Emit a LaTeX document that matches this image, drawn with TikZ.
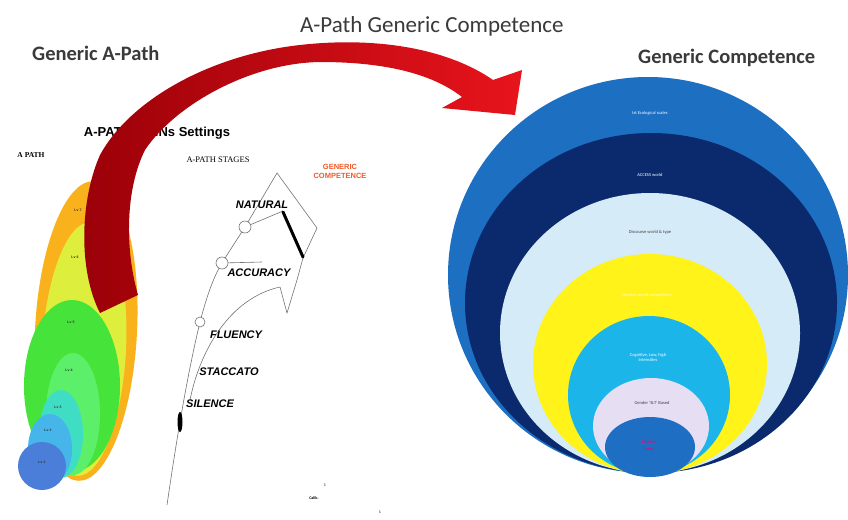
\documentclass[tikz,border=0pt]{standalone}
\usepackage{fontspec}
\setmainfont{Carlito}
\newfontfamily\lsans{Liberation Sans}
\newfontfamily\lserif{Liberation Serif}
\definecolor{titlegray}{HTML}{3A3A3A}
\definecolor{aorange}{HTML}{F9B21C}
\definecolor{ayellow}{HTML}{DDEF3C}
\definecolor{agreen}{HTML}{46E43A}
\definecolor{alime}{HTML}{5CF06A}
\definecolor{aturq}{HTML}{3EDDC4}
\definecolor{alblue}{HTML}{46B6EA}
\definecolor{ablue}{HTML}{4A7ED8}
\definecolor{gcblue}{HTML}{1C6FC1}
\definecolor{gcnavy}{HTML}{0B2A6E}
\definecolor{gcpale}{HTML}{D5EBF7}
\definecolor{gcyellow}{HTML}{FFF31A}
\definecolor{gccyan}{HTML}{1BB5EA}
\definecolor{gclav}{HTML}{E6DEF2}
\definecolor{gccore}{HTML}{1E6FC4}
\definecolor{gcred}{HTML}{F05A28}
\definecolor{darrow}{HTML}{9A0008}
\definecolor{barrow}{HTML}{E8141C}
\begin{document}
\begin{tikzpicture}[x=1pt,y=-1pt,
  title/.style={font=\fontsize{20.5}{20.5}\selectfont\bfseries, text=titlegray, inner sep=0pt},
  stagelabel/.style={font=\lsans\fontsize{11}{11}\selectfont\bfseries\itshape, inner sep=0pt},
  tinylabel/.style={font=\lsans\fontsize{3.5}{3.5}\selectfont\bfseries, text=black!80, inner sep=0pt},
  gclabel/.style={font=\fontsize{4.5}{5}\selectfont, inner sep=0pt, align=center},
  stageline/.style={draw=black!55, line width=0.6pt}]
\useasboundingbox (0,0) rectangle (848,519);
\fill[white] (0,0) rectangle (848,519);

% ---------- titles ----------
\node[title, anchor=west] (tgap) at (32,53) {Generic A-Path};
\node[font=\fontsize{23}{23}\selectfont, text=titlegray, inner sep=0pt, anchor=west] (tapgc) at (300,26) {A-Path Generic Competence};
\node[title, anchor=west] (tgc) at (638,58) {Generic Competence};

% ---------- left nested ellipses ----------
\fill[aorange] (86,331) ellipse [x radius=51, y radius=150, rotate=-3];
\fill[ayellow] (84,349) ellipse [x radius=42, y radius=127, rotate=-3];
\fill[agreen] (72,386) ellipse [x radius=48, y radius=86];
\fill[alime] (73,414) ellipse [x radius=27, y radius=61];
\fill[aturq] (61,434) ellipse [x radius=22, y radius=44];
\fill[alblue] (50,449) ellipse [x radius=22, y radius=35];
\fill[ablue] (42,466) ellipse [x radius=24, y radius=24];
\node[tinylabel] (l7) at (78,210) {Lv 7};
\node[tinylabel] (l6) at (75,257) {Lv 6};
\node[tinylabel] (l5) at (71,322) {Lv 5};
\node[tinylabel] (l4) at (69,370) {Lv 4};
\node[tinylabel] (l3) at (58,407) {Lv 3};
\node[tinylabel] (l2) at (48,430) {Lv 2};
\node[tinylabel] (l1) at (42,462) {Lv 1};

% ---------- middle texts ----------
\node[font=\lserif\fontsize{7.5}{7.5}\selectfont\bfseries, inner sep=0pt] (apath) at (31,155) {A PATH};
\node[font=\lsans\fontsize{13}{13}\selectfont\bfseries, inner sep=0pt] (settings) at (157,133) {A-PATH MAINs Settings};
\node[font=\lserif\fontsize{8.5}{8.5}\selectfont, inner sep=0pt] (stages) at (218,160) {A-PATH STAGES};
\node[font=\lsans\fontsize{7.5}{9}\selectfont\bfseries, text=gcred, align=center, inner sep=0pt] (gcomp) at (340,171) {GENERIC\\COMPETENCE};

% ---------- stages drawing ----------
\coordinate (top) at (277,173);
\coordinate (rc) at (317,228);
\coordinate (nb) at (303,258);
\draw[stageline] (167,505) .. controls (175,450) and (186,380) .. (200,322)
   .. controls (207,295) and (214,276) .. (222,263)
   .. controls (230,250) and (238,238) .. (245,227) -- (top) -- (rc) -- (nb);
\draw[stageline] (190,400) .. controls (200,350) and (230,298) .. (280,287) -- (287,313) -- (297,280) -- (nb);
\draw[stageline] (245,227) -- (283,211);
\draw[stageline] (222,263) -- (262,262);
\draw[stageline, fill=white] (245,227) circle (6);
\draw[stageline, fill=white] (222,263) circle (6);
\draw[stageline, fill=white] (200,322) circle (5);
\draw[line width=3pt, line cap=round] (283,212) -- (303,257);
\fill (180,422) ellipse [x radius=2.5, y radius=10];
\node[stagelabel] (natural) at (262,205) {NATURAL};
\node[stagelabel] (accuracy) at (259,273) {ACCURACY};
\node[stagelabel] (fluency) at (236,335) {FLUENCY};
\node[stagelabel] (staccato) at (229,372) {STACCATO};
\node[stagelabel] (silence) at (210,404) {SILENCE};
\node[font=\fontsize{4}{4}\selectfont, inner sep=0pt] (m1) at (325,485) {1};
\node[font=\fontsize{4}{4}\selectfont\bfseries, inner sep=0pt] (m2) at (314,498) {Calib.};
\node[font=\fontsize{4}{4}\selectfont, inner sep=0pt] (m3) at (380,512) {1};

% ---------- right nested ellipses ----------
\fill[gcblue] (648,275) ellipse [x radius=200, y radius=198];
\fill[gcnavy] (651,303) ellipse [x radius=186, y radius=170];
\fill[gcpale] (650,333) ellipse [x radius=150, y radius=140];
\fill[gcyellow] (650,364) ellipse [x radius=117, y radius=110];
\fill[gccyan] (649,395) ellipse [x radius=81, y radius=79];
\fill[gclav] (651,426) ellipse [x radius=58, y radius=48];
\fill[gccore] (650,447) ellipse [x radius=45, y radius=30];
\node[gclabel, text=white] (g1) at (650,113) {Ist Ecological scales};
\node[gclabel, text=white] (g2) at (650,175) {ACCESS world};
\node[gclabel, text=black!75] (g3) at (650,232) {Discourse world \& type};
\node[gclabel, text=white!90!yellow] (g4) at (647,295) {Generic world competence};
\node[gclabel, text=white] (g5) at (648,357) {Cognitive, Low, high\\Intensities};
\node[gclabel, text=black!75] (g6) at (652,403) {Gender `SLT' Based};
\node[gclabel, text=magenta!80!red, font=\fontsize{4.5}{7}\selectfont\bfseries] (g7) at (649,446) {Generic\\Comp.};

% ---------- big red curved arrow ----------
\shade[left color=darrow, right color=barrow]
  (100,313) .. controls (78,270) and (80,200) .. (100,155)
  .. controls (130,100) and (210,55) .. (300,45)
  .. controls (380,36) and (450,50) .. (493,80)
  -- (522,70) -- (515,115) -- (442,108) -- (462,97)
  .. controls (430,72) and (380,62) .. (320,62)
  .. controls (250,63) and (175,105) .. (145,150)
  .. controls (125,190) and (125,250) .. (138,295) -- cycle;
\end{tikzpicture}
\end{document}
